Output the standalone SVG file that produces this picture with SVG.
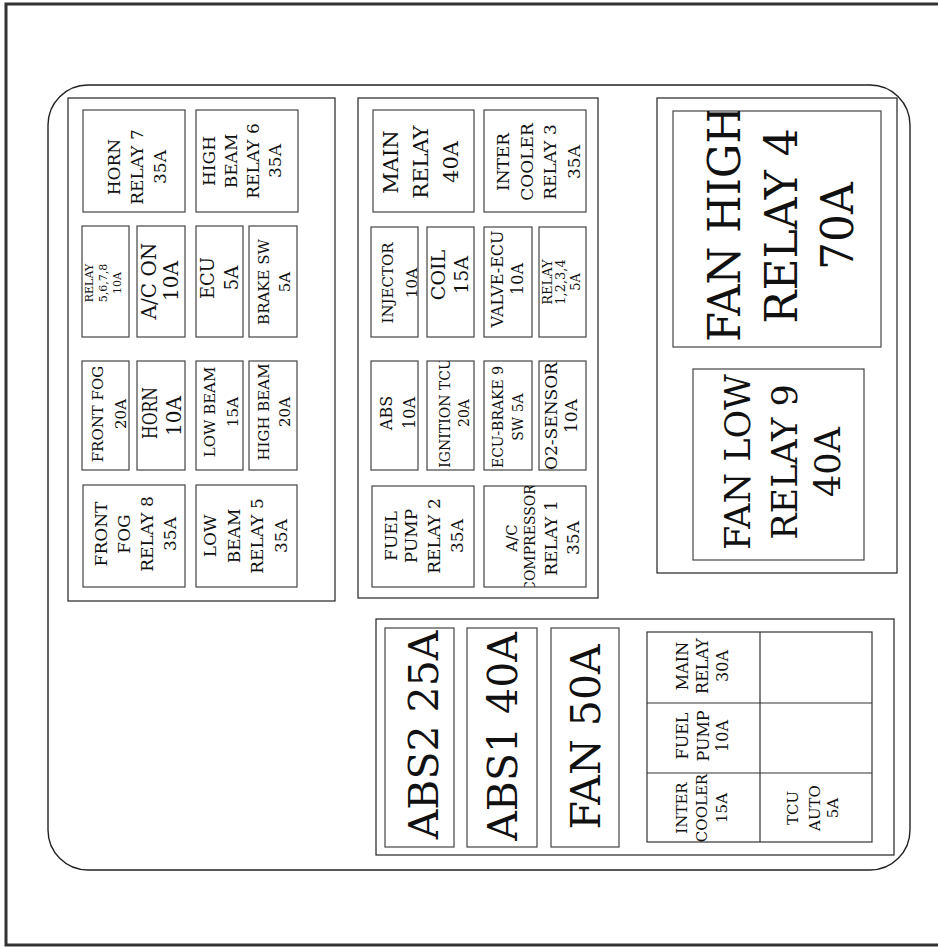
<svg xmlns="http://www.w3.org/2000/svg" width="938" height="947" viewBox="0 0 938 947">
<style>
.bg{fill:#fff}
.frame{fill:none;stroke:#333;stroke-width:3}
.outline{fill:none;stroke:#222;stroke-width:1.4}
.grp{fill:none;stroke:#222;stroke-width:1.2}
.fuse{fill:#fff;stroke:#444;stroke-width:1.2}
.cell{fill:none;stroke:#333;stroke-width:1.2}
text{font-family:"DejaVu Serif","Liberation Serif",serif;fill:#111;text-anchor:middle}
</style>
<defs>
<clipPath id="clip-fanhigh"><rect x="673" y="111" width="208" height="236"/></clipPath>
<clipPath id="clip-ign"><rect x="427" y="361" width="47" height="109"/></clipPath>
<clipPath id="clip-comp"><rect x="484" y="486" width="102" height="101"/></clipPath>
</defs>
<rect class="bg" x="0" y="0" width="938" height="947"/>
<rect class="frame" x="6" y="4" width="945" height="941"/>
<rect class="outline" x="48" y="85" width="862" height="785" rx="40" ry="40"/>

<g id="box-left">
<rect class="grp" x="68" y="98" width="267" height="503"/>
</g>
<g id="box-middle">
<rect class="grp" x="358" y="98" width="240" height="500"/>
</g>
<g id="box-right">
<rect class="grp" x="657" y="98" width="240" height="475"/>
</g>
<g id="box-bottom">
<rect class="grp" x="376" y="619" width="518" height="236"/>
</g>

<g id="connectors"></g>

<!-- Left box -->
<g id="f-horn-relay7">
<rect class="fuse" x="83" y="110" width="102" height="102"/>
<text font-size="17" transform="translate(0,167) rotate(-90)"><tspan x="0" y="120">HORN</tspan><tspan x="0" y="143">RELAY 7</tspan><tspan x="0" y="165.5">35A</tspan></text>
</g>
<g id="f-highbeam-relay6">
<rect class="fuse" x="196" y="110" width="102" height="102"/>
<text font-size="17" transform="translate(0,161) rotate(-90)"><tspan x="0" y="215">HIGH</tspan><tspan x="0" y="237">BEAM</tspan><tspan x="0" y="259">RELAY 6</tspan><tspan x="0" y="281">35A</tspan></text>
</g>
<g id="f-relay5678">
<rect class="fuse" x="82" y="226" width="47" height="111"/>
<text font-size="11" transform="translate(0,283) rotate(-90)"><tspan x="0" y="93">RELAY</tspan><tspan x="0" y="106.5">5,6,7,8</tspan><tspan x="0" y="120.5">10A</tspan></text>
</g>
<g id="f-acon">
<rect class="fuse" x="137" y="226" width="48" height="111"/>
<text font-size="20" transform="translate(0,281) rotate(-90)"><tspan x="0" y="156">A/C ON</tspan><tspan x="0" y="178">10A</tspan></text>
</g>
<g id="f-ecu">
<rect class="fuse" x="196" y="226" width="47" height="111"/>
<text font-size="18" transform="translate(0,278) rotate(-90)"><tspan x="0" y="214">ECU</tspan><tspan x="0" y="238">5A</tspan></text>
</g>
<g id="f-brakesw">
<rect class="fuse" x="249" y="226" width="48" height="111"/>
<text font-size="15" transform="translate(0,282) rotate(-90)"><tspan x="0" y="268.5">BRAKE SW</tspan><tspan x="0" y="290">5A</tspan></text>
</g>
<g id="f-frontfog">
<rect class="fuse" x="82" y="361" width="47" height="109"/>
<text font-size="15" transform="translate(0,414) rotate(-90)"><tspan x="0" y="102.5">FRONT FOG</tspan><tspan x="0" y="126">20A</tspan></text>
</g>
<g id="f-horn">
<rect class="fuse" x="137" y="361" width="48" height="109"/>
<text font-size="20" transform="translate(0,414) rotate(-90)"><tspan x="1" y="156.5" textLength="52" lengthAdjust="spacingAndGlyphs">HORN</tspan><tspan x="-2" y="180.5">10A</tspan></text>
</g>
<g id="f-lowbeam">
<rect class="fuse" x="196" y="361" width="47" height="109"/>
<text font-size="15" transform="translate(0,412) rotate(-90)"><tspan x="0" y="215">LOW BEAM</tspan><tspan x="0" y="238">15A</tspan></text>
</g>
<g id="f-highbeam">
<rect class="fuse" x="249" y="361" width="48" height="109"/>
<text font-size="15" transform="translate(0,412) rotate(-90)"><tspan x="0" y="269">HIGH BEAM</tspan><tspan x="0" y="290">20A</tspan></text>
</g>
<g id="f-frontfog-relay8">
<rect class="fuse" x="83" y="485" width="102" height="102"/>
<text font-size="17" transform="translate(0,534) rotate(-90)"><tspan x="0" y="106.5">FRONT</tspan><tspan x="0" y="130">FOG</tspan><tspan x="0" y="153">RELAY 8</tspan><tspan x="0" y="175.5">35A</tspan></text>
</g>
<g id="f-lowbeam-relay5">
<rect class="fuse" x="196" y="485" width="101" height="102"/>
<text font-size="17" transform="translate(0,536) rotate(-90)"><tspan x="0" y="216">LOW</tspan><tspan x="0" y="239.5">BEAM</tspan><tspan x="0" y="263">RELAY 5</tspan><tspan x="0" y="286.5">35A</tspan></text>
</g>

<!-- Middle box -->
<g id="f-main-relay40">
<rect class="fuse" x="373" y="110" width="101" height="102"/>
<text font-size="21" transform="translate(0,162) rotate(-90)"><tspan x="0" y="398">MAIN</tspan><tspan x="0" y="428">RELAY</tspan><tspan x="0" y="458">40A</tspan></text>
</g>
<g id="f-intercooler-relay3">
<rect class="fuse" x="484" y="110" width="102" height="102"/>
<text font-size="17" transform="translate(0,162) rotate(-90)"><tspan x="0" y="509">INTER</tspan><tspan x="0" y="532.5">COOLER</tspan><tspan x="0" y="556">RELAY 3</tspan><tspan x="0" y="579.5">35A</tspan></text>
</g>
<g id="f-injector">
<rect class="fuse" x="371" y="227" width="47" height="110"/>
<text font-size="15" transform="translate(0,283) rotate(-90)"><tspan x="0" y="392.5">INJECTOR</tspan><tspan x="0" y="416.5">10A</tspan></text>
</g>
<g id="f-coil">
<rect class="fuse" x="427" y="227" width="47" height="110"/>
<text font-size="19" transform="translate(0,275) rotate(-90)"><tspan x="0" y="445">COIL</tspan><tspan x="0" y="468">15A</tspan></text>
</g>
<g id="f-valve-ecu">
<rect class="fuse" x="484" y="227" width="48" height="110"/>
<text font-size="16" transform="translate(0,279) rotate(-90)"><tspan x="0" y="503">VALVE-ECU</tspan><tspan x="0" y="523">10A</tspan></text>
</g>
<g id="f-relay1234">
<rect class="fuse" x="539" y="227" width="47" height="110"/>
<text font-size="13" transform="translate(0,282) rotate(-90)"><tspan x="0" y="551.5">RELAY</tspan><tspan x="0" y="565">1,2,3,4</tspan><tspan x="0" y="580">5A</tspan></text>
</g>
<g id="f-abs">
<rect class="fuse" x="371" y="361" width="47" height="109"/>
<text font-size="16" transform="translate(0,413) rotate(-90)"><tspan x="0" y="391.5">ABS</tspan><tspan x="0" y="415">10A</tspan></text>
</g>
<g id="f-ignition-tcu">
<rect class="fuse" x="427" y="361" width="47" height="109"/>
<g clip-path="url(#clip-ign)">
<text font-size="14" transform="translate(0,413) rotate(-90)"><tspan x="0" y="450">IGNITION TCU</tspan><tspan x="0" y="468.5">20A</tspan></text>
</g>
</g>
<g id="f-ecu-brake9">
<rect class="fuse" x="484" y="361" width="48" height="109"/>
<text font-size="14" transform="translate(0,417) rotate(-90)"><tspan x="0" y="503">ECU-BRAKE 9</tspan><tspan x="0" y="523">SW 5A</tspan></text>
</g>
<g id="f-o2-sensor">
<rect class="fuse" x="539" y="361" width="47" height="109"/>
<text font-size="17" transform="translate(0,416) rotate(-90)"><tspan x="0" y="556.5">O2-SENSOR</tspan><tspan x="0" y="577">10A</tspan></text>
</g>
<g id="f-fuelpump-relay2">
<rect class="fuse" x="372" y="486" width="102" height="101"/>
<text font-size="17" transform="translate(0,536) rotate(-90)"><tspan x="0" y="396.5">FUEL</tspan><tspan x="0" y="417">PUMP</tspan><tspan x="0" y="440">RELAY 2</tspan><tspan x="0" y="463">35A</tspan></text>
</g>
<g id="f-ac-compressor-relay1">
<rect class="fuse" x="484" y="486" width="102" height="101"/>
<g clip-path="url(#clip-comp)">
<text font-size="17" transform="translate(0,538) rotate(-90)"><tspan x="0" y="516.5" font-size="15">A/C</tspan><tspan x="0" y="535" font-size="14">COMPRESSOR</tspan><tspan x="0" y="557">RELAY 1</tspan><tspan x="0" y="578.5">35A</tspan></text>
</g>
</g>

<!-- Right box -->
<g id="f-fan-high-relay4">
<rect class="fuse" x="673" y="111" width="208" height="236"/>
<g clip-path="url(#clip-fanhigh)">
<text font-size="44" transform="translate(0,226) rotate(-90)"><tspan x="2" y="740" textLength="236" lengthAdjust="spacingAndGlyphs">FAN HIGH</tspan><tspan x="0" y="797">RELAY 4</tspan><tspan x="0" y="853">70A</tspan></text>
</g>
</g>
<g id="f-fan-low-relay9">
<rect class="fuse" x="693" y="369" width="171" height="191"/>
<text font-size="35" transform="translate(0,462) rotate(-90)"><tspan x="0" y="750">FAN LOW</tspan><tspan x="0" y="797">RELAY 9</tspan><tspan x="0" y="840">40A</tspan></text>
</g>

<!-- Bottom box -->
<g id="f-abs2">
<rect class="fuse" x="385" y="628" width="69" height="219"/>
<text font-size="41" transform="translate(0,735) rotate(-90)"><tspan x="0" y="438">ABS2 25A</tspan></text>
</g>
<g id="f-abs1">
<rect class="fuse" x="467" y="628" width="70" height="219"/>
<text font-size="41" transform="translate(0,736.5) rotate(-90)"><tspan x="0" y="517">ABS1 40A</tspan></text>
</g>
<g id="f-fan50">
<rect class="fuse" x="551" y="628" width="68" height="219"/>
<text font-size="41" transform="translate(0,737) rotate(-90)"><tspan x="0" y="600">FAN 50A</tspan></text>
</g>

<g id="fuse-grid">
<rect class="cell" x="647" y="632" width="225" height="210"/>
<line class="cell" x1="760" y1="632" x2="760" y2="842"/>
<line class="cell" x1="647" y1="703" x2="872" y2="703"/>
<line class="cell" x1="647" y1="773" x2="872" y2="773"/>
</g>
<g id="f-main-relay30">
<text font-size="16" transform="translate(0,666) rotate(-90)"><tspan x="0" y="688">MAIN</tspan><tspan x="0" y="708">RELAY</tspan><tspan x="0" y="728">30A</tspan></text>
</g>
<g id="f-fuelpump10">
<text font-size="16" transform="translate(0,736) rotate(-90)"><tspan x="0" y="688">FUEL</tspan><tspan x="0" y="709">PUMP</tspan><tspan x="0" y="728">10A</tspan></text>
</g>
<g id="f-intercooler15">
<text font-size="15" transform="translate(0,808) rotate(-90)"><tspan x="0" y="687">INTER</tspan><tspan x="0" y="707">COOLER</tspan><tspan x="0" y="727">15A</tspan></text>
</g>
<g id="f-tcu-auto5">
<text font-size="15" transform="translate(0,808) rotate(-90)"><tspan x="0" y="798">TCU</tspan><tspan x="0" y="820">AUTO</tspan><tspan x="0" y="838">5A</tspan></text>
</g>
</svg>
